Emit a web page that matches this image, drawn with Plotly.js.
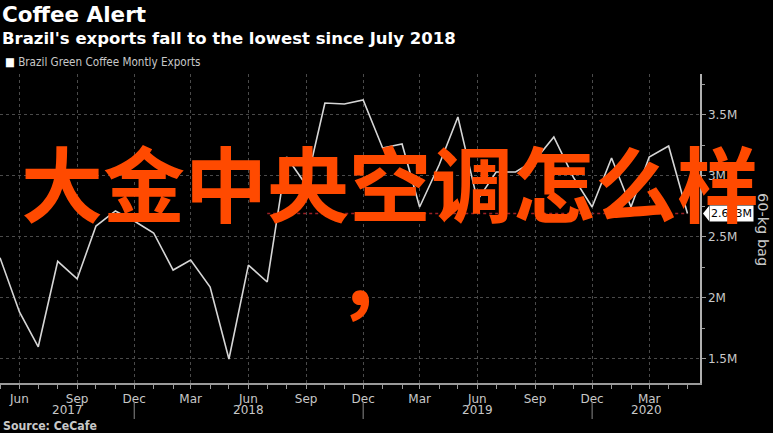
<!DOCTYPE html>
<html><head><meta charset="utf-8">
<script src="https://cdn.plot.ly/plotly-3.0.1.min.js"></script>
<style>html,body{margin:0;padding:0;background:#000;}#chart{width:773px;height:433px;}</style>
</head><body><div id="chart"></div>
<script>
// ---- data (millions of 60-kg bags) ----
const months = [
  '2017-05-01','2017-06-01','2017-07-01','2017-08-01','2017-09-01','2017-10-01','2017-11-01','2017-12-01',
  '2018-01-01','2018-02-01','2018-03-01','2018-04-01','2018-05-01','2018-06-01','2018-07-01','2018-08-01',
  '2018-09-01','2018-10-01','2018-11-01','2018-12-01',
  '2019-01-01','2019-02-01','2019-03-01','2019-04-01','2019-05-01','2019-06-01','2019-07-01','2019-08-01',
  '2019-09-01','2019-10-01','2019-11-01','2019-12-01',
  '2020-01-01','2020-02-01','2020-03-01','2020-04-01','2020-05-01'
];
const exportsM = [
  2.33, 1.885, 1.60, 2.30, 2.156, 2.59, 2.713, 2.631,
  2.533, 2.229, 2.311, 2.09, 1.50, 2.27, 2.131, 3.156,
  2.926, 3.598, 3.59, 3.623,
  3.23, 3.262, 2.746, 3.09, 3.484, 2.80, 3.033, 3.033,
  3.13, 3.32, 2.99, 2.746,
  3.148, 2.746, 3.156, 3.246, 2.693
];
const monthTickDates = ['2017-06-01','2017-09-01','2017-12-01','2018-03-01','2018-06-01','2018-09-01',
  '2018-12-01','2019-03-01','2019-06-01','2019-09-01','2019-12-01','2020-03-01'];
const monthTickText = ['Jun','Sep','Dec','Mar','Jun','Sep','Dec','Mar','Jun','Sep','Dec','Mar'];
const yTickVals = [1.5, 2, 2.5, 3, 3.5];
const yTickText = ['1.5M','2M','2.5M','3M','3.5M'];
const yearLabels = ['2017','2018','2019','2020'];
const yearBreaks = ['2017-12-01','2018-12-01','2019-12-01'];
const xRange = ['2017-05-01','2020-05-21'];
const yRange = [1.303, 3.836];
const refStart = '2018-07-01';
const lastLabel = '2.693M';

// ---- geometry helpers (layout positions only) ----
const W = 773, H = 433, M = {l:0, r:73, t:74, b:50};
const PW = W - M.l - M.r, PH = H - M.t - M.b;
const px = p => (p - M.l) / PW;
const py = p => (H - M.b - p) / PH;

const bounds = [xRange[0], ...yearBreaks, xRange[1]].map(d => new Date(d).getTime());
const yearMids = yearLabels.map((y, i) => new Date((bounds[i] + bounds[i+1]) / 2).toISOString().slice(0,10));

const FONT = 'DejaVu Sans';
const GRAY = '#c8c8c8';

const trace = {
  x: months, y: exportsM, type: 'scatter', mode: 'lines',
  line: {color: '#d6d6d6', width: 1.6}, hoverinfo: 'skip', showlegend: false
};

const annotations = [
  {text: 'Coffee Alert', xref:'paper', yref:'paper', x: px(0), y: py(14), xanchor:'left', yanchor:'middle',
   showarrow:false, font:{family:FONT, size:21.5, color:'#ffffff', weight:'bold'}},
  {text: "Brazil's exports fall to the lowest since July 2018", xref:'paper', yref:'paper', x: px(0), y: py(38),
   xanchor:'left', yanchor:'middle', showarrow:false, font:{family:FONT, size:16.5, color:'#ffffff', weight:'bold'}},
  {text: "<span style='color:#ffffff'>■</span> Brazil Green Coffee Montly Exports", xref:'paper', yref:'paper',
   x: px(3), y: py(62), xanchor:'left', yanchor:'middle', showarrow:false, font:{family:'DejaVu Sans Condensed', size:11.6, color:GRAY}},
  {text: 'Source: CeCafe', xref:'paper', yref:'paper', x: px(1), y: py(426), xanchor:'left', yanchor:'middle',
   showarrow:false, font:{family:'DejaVu Sans Condensed', size:12.2, color:GRAY, weight:'bold'}},
  {text: '60-kg bag', xref:'paper', yref:'paper', x: px(763), y: py(229), xanchor:'center', yanchor:'middle',
   textangle: 90, showarrow:false, font:{family:FONT, size:14.5, color:GRAY}},
  {text: lastLabel, xref:'paper', yref:'y', x: 1, y: exportsM[exportsM.length-1], xanchor:'left', yanchor:'middle',
   xshift: 9, showarrow:false, bgcolor:'#ffffff', borderpad:1, font:{family:FONT, size:11, color:'#000000'}},
  {text: '大金中央空调怎么样', xref:'paper', yref:'paper', x: px(390), y: py(180), xanchor:'center', yanchor:'middle',
   showarrow:false, font:{family:'Noto Sans CJK SC', size:82, color:'#ff4a00', weight:'bold'}},
  {text: '，', xref:'paper', yref:'paper', x: px(378), y: py(274), xanchor:'center', yanchor:'middle',
   showarrow:false, font:{family:'Noto Sans CJK SC', size:82, color:'#ff4a00', weight:'bold'}}
];
yearLabels.forEach((y, i) => annotations.push({
  text: y, xref:'x', yref:'paper', x: yearMids[i], y: py(410), xanchor:'center', yanchor:'middle',
  showarrow:false, font:{family:FONT, size:12, color:GRAY}
}));

const shapes = [
  {type:'line', xref:'x', yref:'y', x0: refStart, x1: months[months.length-1],
   y0: exportsM[exportsM.length-1], y1: exportsM[exportsM.length-1],
   line:{color:'#9a1f24', width:1.5, dash:'dot'}, layer:'below'},
  {type:'path', xref:'paper', yref:'y', xsizemode:'pixel', ysizemode:'pixel', xanchor: 1,
   yanchor: exportsM[exportsM.length-1], path:'M3,0 L9,7.5 L9,-7.5 Z', fillcolor:'#ffffff', line:{width:0}}
];
yearBreaks.forEach(d => shapes.push({
  type:'line', xref:'x', yref:'paper', x0:d, x1:d, y0: py(402), y1: py(419),
  line:{color:'#8a8a8a', width:1}
}));

const layout = {
  width: W, height: H, margin: M,
  paper_bgcolor:'#000000', plot_bgcolor:'#000000',
  showlegend:false,
  xaxis: {
    type:'date', range: xRange, tickvals: monthTickDates, ticktext: monthTickText,
    ticks:'outside', ticklen:4, tickcolor:'#9a9a9a', tickwidth:1,
    showgrid:true, gridcolor:'#4a4a4a', griddash:'dot', gridwidth:1,
    showline:true, linecolor:'#9a9a9a', linewidth:1.5, zeroline:false,
    tickfont:{family:FONT, size:12, color:GRAY},
    minor:{dtick:'M1', tick0:'2017-05-01', ticks:'outside', ticklen:4, tickcolor:'#9a9a9a', showgrid:false},
    fixedrange:true
  },
  yaxis: {
    side:'right', range: yRange, tickvals: yTickVals, ticktext: yTickText,
    ticks:'outside', ticklen:4, tickcolor:'#9a9a9a',
    showgrid:true, gridcolor:'#4a4a4a', griddash:'dot', gridwidth:1,
    showline:true, linecolor:'#b0b0b0', linewidth:1.5, zeroline:false,
    tickfont:{family:FONT, size:12, color:GRAY},
    minor:{dtick:0.25, tick0:0, ticks:'outside', ticklen:3, tickcolor:'#9a9a9a', showgrid:false},
    fixedrange:true
  },
  annotations, shapes
};

Plotly.newPlot('chart', [trace], layout, {displayModeBar:false, staticPlot:true});
</script></body></html>
